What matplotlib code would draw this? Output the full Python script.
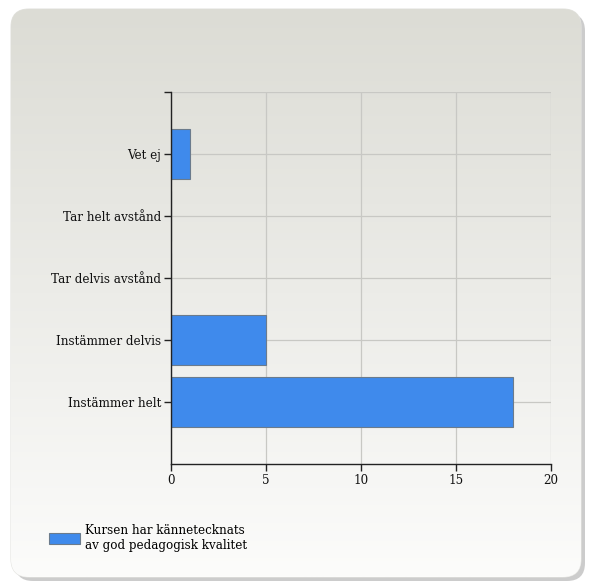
import matplotlib
matplotlib.use("Agg")
import matplotlib.pyplot as plt
import numpy as np
from matplotlib.patches import FancyBboxPatch

categories = ["Instämmer helt", "Instämmer delvis", "Tar delvis avstånd", "Tar helt avstånd", "Vet ej"]
values = [18, 5, 0, 0, 1]
xticks = [0, 5, 10, 15, 20]
legend_label = "Kursen har kännetecknats\nav god pedagogisk kvalitet"

W, H = 592, 582
fig = plt.figure(figsize=(W / 100, H / 100), dpi=100)
fig.patch.set_facecolor("white")

# background panel with gradient and shadow
bg = fig.add_axes([0, 0, 1, 1], zorder=-10)
bg.set_xlim(0, W)
bg.set_ylim(H, 0)
bg.axis("off")
shadow = FancyBboxPatch((15, 13), 570, 568, boxstyle="round,pad=0,rounding_size=18",
                        facecolor="#c4c4c4", edgecolor="none", alpha=0.85)
bg.add_patch(shadow)
panel = FancyBboxPatch((11, 9), 570, 568, boxstyle="round,pad=0,rounding_size=18",
                       facecolor="none", edgecolor="#e4e4e0", lw=0.8)
bg.add_patch(panel)
grad = np.linspace(0, 1, 256).reshape(-1, 1)
c_top = np.array([0xdc, 0xdc, 0xd5]) / 255
c_bot = np.array([0xfc, 0xfc, 0xfb]) / 255
img = c_top[None, None, :] * (1 - grad[:, :, None]) + c_bot[None, None, :] * grad[:, :, None]
im = bg.imshow(img, extent=(11, 581, 577, 9), aspect="auto", zorder=1)
im.set_clip_path(panel)

serif = ["DejaVu Serif"]
fs = 8.6

ax = fig.add_axes([171 / W, 1 - 464 / H, 380 / W, 372 / H])
ax.set_facecolor("none")
y = np.arange(len(categories))
ax.barh(y, values, height=0.8, color="#3f8aec", edgecolor="#6b7b8c", linewidth=0.8,
        label=legend_label, zorder=3)
ax.set_xlim(0, 20)
ax.set_ylim(-1, 5)
ax.set_xticks(xticks)
ax.set_xticklabels([str(t) for t in xticks], fontfamily=serif, fontsize=fs)
ax.set_yticks(y)
ax.set_yticklabels(categories, fontfamily=serif, fontsize=fs)
ax.set_yticks([5], minor=True)
ax.tick_params(axis="y", which="minor", length=5, width=1, color="#222222")
ax.tick_params(axis="both", which="major", length=5, width=1, color="#222222", pad=2, labelcolor="#111111")
ax.grid(True, color="#c8c8c4", linewidth=0.9, zorder=0)
ax.axhline(5, color="#c8c8c4", linewidth=0.9, zorder=0)
for s in ["top", "right"]:
    ax.spines[s].set_visible(False)
for s in ["left", "bottom"]:
    ax.spines[s].set_color("#222222")
    ax.spines[s].set_linewidth(1.0)
    ax.spines[s].set_zorder(5)

leg = ax.legend(loc="upper left", bbox_to_anchor=(44 / W, 1 - 519 / H), bbox_transform=fig.transFigure,
                frameon=False, prop={"family": serif, "size": fs}, handlelength=2.6, handleheight=1.1,
                handletextpad=0.4, borderaxespad=0, labelspacing=0.2)

fig.savefig("out.png", dpi=100)
